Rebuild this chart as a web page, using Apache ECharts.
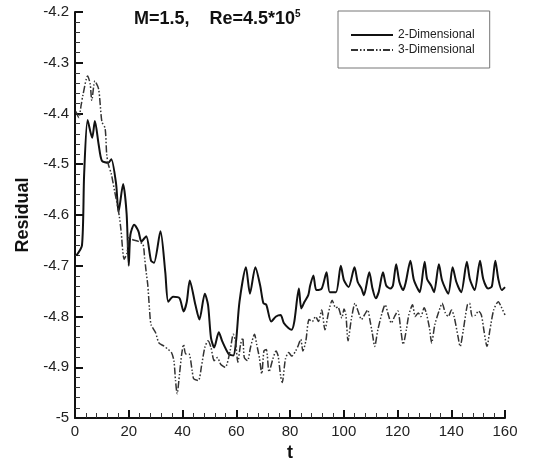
<!DOCTYPE html>
<html>
<head>
<meta charset="utf-8">
<script src="https://cdn.jsdelivr.net/npm/echarts@6/dist/echarts.min.js"></script>
<style>html,body{margin:0;padding:0;background:#fff;}#c{width:547px;height:467px;}</style>
</head>
<body>
<div id="c"></div>
<script>
// 2-Dimensional series
var t2d = [0.5,2.6,3.4,4.7,6.4,7.4,8.8,10.0,12.4,13.5,15.3,16.2,17.9,19.2,20.0,20.6,22.0,23.6,24.7,26.5,
  28.3,29.4,31.8,33.6,34.7,36.5,38.9,40.4,41.6,42.7,44.8,46.3,48.3,49.5,50.6,51.8,53.5,54.8,57.2,58.9,
  60.0,61.2,63.6,65.1,67.1,68.9,70.1,71.2,73.0,74.8,76.5,77.7,79.5,80.6,81.6,83.3,84.2,85.4,86.8,87.5,
  88.7,89.8,91.8,93.6,94.8,97.1,98.9,100.1,101.8,104.0,105.2,106.6,107.5,109.5,110.7,111.9,113.0,114.6,115.8,117.4,
  118.3,119.5,120.7,122.1,123.1,124.8,126.0,127.2,128.3,130.1,131.0,132.5,133.6,135.4,136.6,138.9,140.5,141.9,143.7,145.8,
  146.9,148.7,150.7,151.9,153.7,155.1,156.4,157.5,158.8,160];
var r2d = [-4.68,-4.66,-4.52,-4.413,-4.448,-4.415,-4.461,-4.493,-4.497,-4.490,-4.539,-4.594,-4.539,-4.597,-4.700,-4.639,-4.619,-4.632,-4.652,-4.642,
  -4.690,-4.694,-4.632,-4.713,-4.771,-4.761,-4.764,-4.790,-4.771,-4.729,-4.777,-4.806,-4.755,-4.777,-4.842,-4.861,-4.831,-4.849,-4.874,-4.877,
  -4.845,-4.771,-4.703,-4.755,-4.703,-4.739,-4.774,-4.777,-4.810,-4.800,-4.797,-4.813,-4.823,-4.826,-4.810,-4.745,-4.784,-4.771,-4.758,-4.739,
  -4.719,-4.748,-4.745,-4.713,-4.752,-4.752,-4.700,-4.729,-4.742,-4.703,-4.732,-4.745,-4.758,-4.713,-4.745,-4.764,-4.752,-4.713,-4.739,-4.745,
  -4.739,-4.697,-4.732,-4.748,-4.732,-4.690,-4.726,-4.742,-4.752,-4.692,-4.726,-4.739,-4.752,-4.697,-4.729,-4.755,-4.703,-4.732,-4.752,-4.692,
  -4.726,-4.748,-4.690,-4.726,-4.745,-4.741,-4.690,-4.726,-4.748,-4.742];

// 3-Dimensional series
var t3d = [0.35,1.4,2.3,2.9,4.7,5.65,6.25,7.4,8.8,10.0,11.2,11.8,12.4,13.5,14.7,15.9,16.5,17.1,18.3,19.4,
  20.0,21.2,23.6,25.3,25.9,26.5,27.1,27.7,28.3,30.0,31.2,33.0,34.7,35.9,36.8,37.4,38.0,38.9,39.7,40.4,
  41.2,42.4,43.6,44.2,45.9,47.1,48.3,49.5,50.6,51.8,53.0,54.2,55.9,57.7,58.9,59.7,60.6,61.6,62.4,63.0,
  64.2,65.3,66.8,67.6,68.6,69.5,70.3,71.2,72.2,73.6,74.8,75.6,76.5,77.1,78.3,79.5,80.7,82.1,83.0,84.0,
  84.8,85.9,87.1,88.3,89.5,90.6,91.8,93.0,94.3,95.7,97.0,97.8,99.3,100.1,100.8,101.6,102.8,104.2,105.3,106.6,
  107.7,108.9,109.7,110.7,111.5,112.7,114.2,115.4,116.6,117.7,118.9,120.1,121.3,122.1,123.3,124.2,125.6,126.6,127.7,128.7,
  129.9,130.7,131.9,132.7,133.9,135.4,136.6,137.8,138.9,140.1,141.1,142.5,143.3,144.5,146.0,146.8,147.8,149.1,150.1,151.2,
  152.2,153.3,154.4,155.8,157.5,158.6,160];
var r3d = [-4.396,-4.408,-4.383,-4.365,-4.326,-4.342,-4.374,-4.336,-4.352,-4.416,-4.429,-4.481,-4.500,-4.519,-4.552,-4.584,-4.603,-4.629,-4.687,-4.674,
  -4.642,-4.648,-4.652,-4.658,-4.684,-4.713,-4.739,-4.784,-4.816,-4.832,-4.852,-4.858,-4.865,-4.871,-4.887,-4.926,-4.952,-4.913,-4.874,-4.855,
  -4.874,-4.874,-4.907,-4.923,-4.926,-4.897,-4.861,-4.848,-4.861,-4.887,-4.881,-4.894,-4.900,-4.868,-4.835,-4.848,-4.890,-4.855,-4.842,-4.881,
  -4.887,-4.861,-4.835,-4.855,-4.881,-4.913,-4.868,-4.865,-4.909,-4.884,-4.868,-4.878,-4.917,-4.930,-4.884,-4.871,-4.878,-4.868,-4.858,-4.845,
  -4.868,-4.848,-4.806,-4.810,-4.800,-4.810,-4.787,-4.826,-4.793,-4.768,-4.783,-4.781,-4.803,-4.785,-4.797,-4.848,-4.806,-4.774,-4.789,-4.806,
  -4.797,-4.787,-4.806,-4.835,-4.859,-4.826,-4.794,-4.777,-4.797,-4.813,-4.800,-4.789,-4.829,-4.855,-4.826,-4.797,-4.777,-4.800,-4.793,-4.800,
  -4.783,-4.793,-4.823,-4.852,-4.816,-4.790,-4.774,-4.793,-4.800,-4.787,-4.801,-4.839,-4.859,-4.826,-4.777,-4.774,-4.800,-4.797,-4.789,-4.797,
  -4.829,-4.859,-4.826,-4.787,-4.771,-4.781,-4.797];

var xTicks = [0, 20, 40, 60, 80, 100, 120, 140, 160];
var yTicks = [-5, -4.9, -4.8, -4.7, -4.6, -4.5, -4.4, -4.3, -4.2];

function zip(a, b) { var o = []; for (var i = 0; i < a.length; i++) o.push([a[i], b[i]]); return o; }

var chart = echarts.init(document.getElementById('c'), null, {renderer: 'canvas'});
var font = 'Liberation Sans, Arial, sans-serif';
chart.setOption({
  backgroundColor: '#fff',
  animation: false,
  title: {
    text: '{a|M=1.5,    Re=4.5*10}{s|5}',
    left: 129, top: 4,
    textStyle: {
      rich: {
        a: {fontFamily: font, fontSize: 18, fontWeight: 'bold', color: '#111'},
        s: {fontFamily: font, fontSize: 10, fontWeight: 'bold', color: '#111', padding: [0, 0, 10, 0]}
      }
    }
  },
  legend: {
    orient: 'vertical',
    left: 338, top: 11,
    padding: [18, 15, 12, 12],
    itemGap: 3,
    itemWidth: 42,
    itemHeight: 10,
    borderColor: '#777',
    borderWidth: 1,
    itemStyle: {opacity: 0},
    textStyle: {fontFamily: font, fontSize: 12, color: '#222'},
    data: ['2-Dimensional', '3-Dimensional']
  },
  grid: {left: 75, right: 42, top: 12, bottom: 43, containLabel: false},
  xAxis: {
    type: 'value', min: 0, max: 160, interval: 20,
    name: 't', nameLocation: 'middle', nameGap: 26,
    nameTextStyle: {fontFamily: font, fontSize: 18, fontWeight: 'bold', color: '#111'},
    axisLine: {show: true, onZero: false, lineStyle: {color: '#111', width: 2}},
    axisTick: {show: true, inside: true, length: 8, lineStyle: {color: '#111', width: 2}},
    minorTick: {show: true, splitNumber: 5, length: 5, lineStyle: {color: '#333', width: 1}},
    splitLine: {show: false},
    axisLabel: {fontFamily: font, fontSize: 15, color: '#222', margin: 6,
      formatter: function (v) { return xTicks.indexOf(v) >= 0 ? String(v) : ''; }}
  },
  yAxis: {
    type: 'value', min: -5, max: -4.2, interval: 0.1,
    name: 'Residual', nameLocation: 'middle', nameGap: 43, nameRotate: 90,
    nameTextStyle: {fontFamily: font, fontSize: 18, fontWeight: 'bold', color: '#111'},
    axisLine: {show: true, onZero: false, lineStyle: {color: '#111', width: 2}},
    axisTick: {show: true, inside: true, length: 8, lineStyle: {color: '#111', width: 2}},
    minorTick: {show: true, splitNumber: 5, length: 5, lineStyle: {color: '#333', width: 1}},
    splitLine: {show: false},
    axisLabel: {fontFamily: font, fontSize: 15, color: '#222', margin: 6,
      formatter: function (v) {
        var r = Math.round(v * 10) / 10;
        for (var i = 0; i < yTicks.length; i++) if (Math.abs(yTicks[i] - r) < 1e-6) return String(yTicks[i]);
        return '';
      }}
  },
  series: [
    {
      name: '2-Dimensional', type: 'line', data: zip(t2d, r2d),
      symbol: 'none', smooth: 0.25,
      lineStyle: {color: '#111', width: 2}, itemStyle: {color: '#111'}
    },
    {
      name: '3-Dimensional', type: 'line', data: zip(t3d, r3d),
      symbol: 'none', smooth: 0.25,
      lineStyle: {color: '#333', width: 1.5, type: [7, 2, 1.5, 2, 1.5, 2]}, itemStyle: {color: '#333'}
    }
  ]
});
</script>
</body>
</html>
